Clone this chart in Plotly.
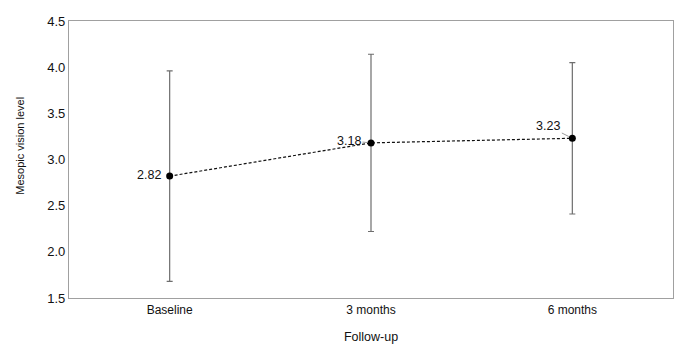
import plotly.graph_objects as go

categories = ["Baseline", "3 months", "6 months"]
means = [2.82, 3.18, 3.23]
sd_plus = [1.14, 0.96, 0.82]
sd_minus = [1.14, 0.96, 0.82]
labels = ["2.82", "3.18", "3.23"]
y_ticks = [1.5, 2.0, 2.5, 3.0, 3.5, 4.0, 4.5]

FONT = "Liberation Sans, Arial, sans-serif"

fig = go.Figure()
fig.add_trace(go.Scatter(
    x=[0, 1, 2], y=means,
    mode="lines+markers",
    line=dict(color="#111111", width=1.2, dash="3px,2px"),
    marker=dict(color="#000000", size=7),
    error_y=dict(type="data", symmetric=False, array=sd_plus, arrayminus=sd_minus,
                 color="#6e6e6e", thickness=1.2, width=3),
    showlegend=False, hoverinfo="skip",
))

# value labels
offsets = [(-22, 0, False), (-22, -2, True), (-24, -12, True)]
for i, (lab, (ax, ay, arrow)) in enumerate(zip(labels, offsets)):
    if arrow:
        fig.add_annotation(x=i, y=means[i], xref="x", yref="y", text=lab,
                           showarrow=True, arrowhead=0, arrowwidth=1, arrowcolor="#9a9a9a",
                           ax=ax, ay=ay, standoff=4,
                           font=dict(family=FONT, size=12.5, color="#111111"))
    else:
        fig.add_annotation(x=i, y=means[i], xref="x", yref="y", text=lab,
                           showarrow=False, xanchor="right", xshift=-7, yshift=1,
                           font=dict(family=FONT, size=12.5, color="#111111"))

# y-axis title
fig.add_annotation(x=-0.081, y=0.55, xref="paper", yref="paper",
                   text="Mesopic vision level", textangle=-90, showarrow=False,
                   xanchor="center", yanchor="middle",
                   font=dict(family=FONT, size=11, color="#111111"))

fig.update_layout(
    width=696, height=353,
    margin=dict(l=69, r=23, t=21, b=55),
    paper_bgcolor="white", plot_bgcolor="white",
    font=dict(family=FONT, size=12, color="#111111"),
    xaxis=dict(range=[-0.5, 2.5], tickvals=[0, 1, 2], ticktext=categories,
               showgrid=False, zeroline=False, showline=True, linecolor="#a0a0a0",
               linewidth=1.2, mirror=True, ticks="",
               title=dict(text="Follow-up", font=dict(size=12.5), standoff=16),
               tickfont=dict(size=12)),
    yaxis=dict(range=[1.5, 4.5], tickvals=y_ticks, ticktext=[f"{v:.1f}" for v in y_ticks],
               showgrid=False, zeroline=False, showline=True, linecolor="#a0a0a0",
               linewidth=1.2, mirror=True, ticks="", tickfont=dict(size=13)),
)

fig.write_html("out.html")
